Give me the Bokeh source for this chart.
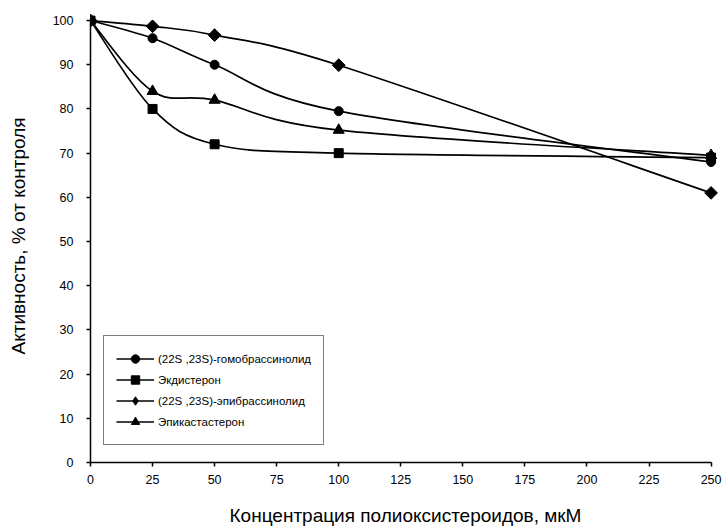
import math
from bokeh.plotting import figure
from bokeh.models import Range1d, Legend, LegendItem, ColumnDataSource, FixedTicker
from bokeh.embed import file_html
from bokeh.resources import INLINE

# ---- data ----
conc = [0, 25, 50, 100, 250]
homobrassinolide = [100, 96, 90, 79.5, 68]
ecdysterone = [100, 80, 72, 70, 69]
epibrassinolide = [100, 98.7, 96.7, 89.9, 61]
epicastasterone = [100, 84, 82, 75.2, 69.5]

series_names = [
    "(22S ,23S)-гомобрассинолид",
    "Экдистерон",
    "(22S ,23S)-эпибрассинолид",
    "Эпикастастерон",
]
series_values = [homobrassinolide, ecdysterone, epibrassinolide, epicastasterone]
series_markers = ["circle", "square", "square", "triangle"]
series_angles = [0, 0, math.pi / 4, 0]
series_sizes = [9, 9, 9, 11]
legend_markers = [None, None, "diamond", None]

x_ticks = [0, 25, 50, 75, 100, 125, 150, 175, 200, 225, 250]
y_ticks = [0, 10, 20, 30, 40, 50, 60, 70, 80, 90, 100]

x_title = "Концентрация полиоксистероидов, мкМ"
y_title = "Активность, % от контроля"

FONT = "Liberation Sans"


def smooth_segments(xs, ys):
    """Bezier control points (Catmull-Rom style smoothing, as in the original spreadsheet chart)."""
    n = len(xs)
    d = dict(x0=[], y0=[], x1=[], y1=[], cx0=[], cy0=[], cx1=[], cy1=[])
    for i in range(n - 1):
        a = i - 1 if i > 0 else i
        b = i + 2 if i + 2 < n else i + 1
        d["x0"].append(xs[i]); d["y0"].append(ys[i])
        d["x1"].append(xs[i + 1]); d["y1"].append(ys[i + 1])
        d["cx0"].append(xs[i] + (xs[i + 1] - xs[a]) / 6.0)
        d["cy0"].append(ys[i] + (ys[i + 1] - ys[a]) / 6.0)
        d["cx1"].append(xs[i + 1] - (xs[b] - xs[i]) / 6.0)
        d["cy1"].append(ys[i + 1] - (ys[b] - ys[i]) / 6.0)
    return ColumnDataSource(d)


p = figure(
    width=725, height=531,
    frame_width=630, frame_height=453,
    x_range=Range1d(0, 253.8), y_range=Range1d(0, 102.5),
    output_backend="svg", toolbar_location=None,
    min_border_left=90, min_border_right=5, min_border_top=9, min_border_bottom=69,
)
p.outline_line_color = None
p.xgrid.visible = False
p.ygrid.visible = False
p.background_fill_color = "white"
p.border_fill_color = "white"

items = []
for name, vals, mk, ang, sz, lmk in zip(series_names, series_values, series_markers,
                                        series_angles, series_sizes, legend_markers):
    src = smooth_segments(conc, vals)
    r_line = p.bezier(x0="x0", y0="y0", x1="x1", y1="y1", cx0="cx0", cy0="cy0",
                      cx1="cx1", cy1="cy1", source=src, line_color="black", line_width=1.7)
    legend_rs = [r_line]
    if lmk is not None:
        # smaller diamond hidden under the rotated square; used for the legend swatch
        legend_rs.append(p.scatter(conc, vals, marker=lmk, size=11,
                                   fill_color="black", line_color="black"))
    r_pts = p.scatter(conc, vals, marker=mk, angle=ang, size=sz,
                      fill_color="black", line_color="black")
    if lmk is None:
        legend_rs.append(r_pts)
    items.append(LegendItem(label=name, renderers=legend_rs))

legend = Legend(items=items, location=(13, 17))
legend.label_text_font = FONT
legend.label_text_font_size = "11.5px"
legend.label_text_color = "black"
legend.border_line_color = "black"
legend.border_line_width = 1
legend.background_fill_color = "white"
legend.background_fill_alpha = 1
legend.padding = 12
legend.spacing = 0
legend.margin = 0
legend.glyph_width = 38
legend.glyph_height = 21
legend.label_height = 21
legend.label_standoff = 4
p.add_layout(legend, "center")

for ax in (p.xaxis[0], p.yaxis[0]):
    ax.axis_line_color = "black"
    ax.axis_line_width = 1.5
    ax.major_tick_line_color = "black"
    ax.major_tick_line_width = 1.5
    ax.major_tick_in = 0
    ax.major_tick_out = 4
    ax.minor_tick_line_color = None
    ax.major_label_text_font = FONT
    ax.major_label_text_font_size = "12.5px"
    ax.major_label_text_color = "black"
    ax.axis_label_text_font = FONT
    ax.axis_label_text_font_size = "19px"
    ax.axis_label_text_font_style = "normal"
    ax.axis_label_text_color = "black"

p.xaxis[0].ticker = FixedTicker(ticks=x_ticks)
p.yaxis[0].ticker = FixedTicker(ticks=y_ticks)
p.xaxis[0].bounds = (x_ticks[0], x_ticks[-1])
p.yaxis[0].bounds = (y_ticks[0], y_ticks[-1])
p.xaxis[0].axis_label = x_title
p.yaxis[0].axis_label = y_title
p.xaxis[0].major_label_standoff = 8
p.yaxis[0].major_label_standoff = 13
p.xaxis[0].axis_label_standoff = 18
p.yaxis[0].axis_label_standoff = 21

open("out.html", "w").write(file_html(p, INLINE))
